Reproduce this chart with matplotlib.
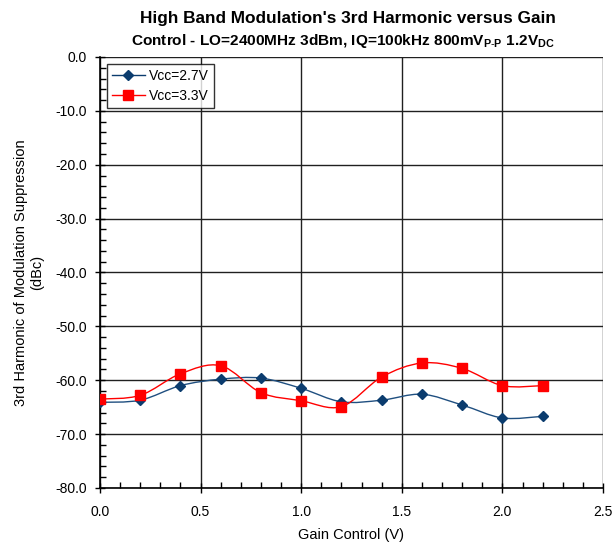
import numpy as np
import matplotlib
matplotlib.use('Agg')
import matplotlib.pyplot as plt
from matplotlib.path import Path
from matplotlib.patches import PathPatch
from matplotlib.ticker import MultipleLocator, FormatStrFormatter

plt.rcParams['font.family'] = ['Liberation Sans', 'DejaVu Sans']
plt.rcParams['mathtext.fontset'] = 'custom'
plt.rcParams['mathtext.rm'] = 'Liberation Sans'
plt.rcParams['mathtext.bf'] = 'Liberation Sans:bold'

gain = [0.0, 0.2, 0.4, 0.6, 0.8, 1.0, 1.2, 1.4, 1.6, 1.8, 2.0, 2.2]
vcc27 = [-64.1, -63.7, -61.0, -59.8, -59.6, -61.5, -64.0, -63.7, -62.6, -64.6, -67.0, -66.7]
vcc33 = [-63.5, -62.8, -58.8, -57.3, -62.3, -63.8, -64.9, -59.4, -56.8, -57.8, -61.0, -61.0]


def smooth_path(x, y):
    # Excel style smoothed line: bezier segments through the data points
    x = np.asarray(x, float)
    y = np.asarray(y, float)
    verts = [(x[0], y[0])]
    codes = [Path.MOVETO]
    n = len(x)
    for i in range(n - 1):
        x0, y0 = (x[i - 1], y[i - 1]) if i > 0 else (x[i], y[i])
        x3, y3 = (x[i + 2], y[i + 2]) if i + 2 < n else (x[i + 1], y[i + 1])
        c1 = (x[i] + (x[i + 1] - x0) / 6, y[i] + (y[i + 1] - y0) / 6)
        c2 = (x[i + 1] - (x3 - x[i]) / 6, y[i + 1] - (y3 - y[i]) / 6)
        verts += [c1, c2, (x[i + 1], y[i + 1])]
        codes += [Path.CURVE4] * 3
    return Path(verts, codes)


fig = plt.figure(figsize=(6.16, 5.48), dpi=100)
ax = fig.add_axes([0.1623, 0.1095, 0.8166, 0.7865])

blue = '#0b3c6e'
red = '#ff0000'
ax.add_patch(PathPatch(smooth_path(gain, vcc27), fill=False, edgecolor='#1f4f80', lw=1.0, zorder=3))
ax.add_patch(PathPatch(smooth_path(gain, vcc33), fill=False, edgecolor=red, lw=1.0, zorder=3))
ax.plot(gain, vcc27, linestyle='none', marker='D', ms=5.5, color=blue, zorder=4)
ax.plot(gain, vcc33, linestyle='none', marker='s', ms=7, color=red, zorder=4)
# legend handles
ax.plot([], [], '-', marker='D', ms=5.5, color=blue, mec=blue, mfc=blue, lw=1.0, label='Vcc=2.7V')
ax.plot([], [], '-', marker='s', ms=7, color=red, lw=1.0, label='Vcc=3.3V')

ax.set_xlim(0, 2.5)
ax.set_ylim(-80, 0)
ax.xaxis.set_major_locator(MultipleLocator(0.5))
ax.xaxis.set_minor_locator(MultipleLocator(0.1))
ax.yaxis.set_major_locator(MultipleLocator(10))
ax.yaxis.set_minor_locator(MultipleLocator(2))
ax.xaxis.set_major_formatter(FormatStrFormatter('%.1f'))
ax.yaxis.set_major_formatter(FormatStrFormatter('%.1f'))
ax.grid(True, which='major', color='#202020', lw=1.0)
ax.tick_params(which='major', direction='inout', length=7, width=1, labelsize=10, pad=6)
ax.tick_params(axis='x', which='major', pad=9)
ax.tick_params(which='minor', direction='in', length=4, width=1)
for s in ['top', 'right']:
    ax.spines[s].set_visible(False)
for s in ['left', 'bottom']:
    ax.spines[s].set_linewidth(1.2)

ax.set_xlabel('Gain Control (V)', fontsize=10.5, labelpad=6)
ax.set_ylabel('3rd Harmonic of Modulation Suppression\n(dBc)', fontsize=10.5, labelpad=8)

leg = ax.legend(loc='upper left', fontsize=10, frameon=True, fancybox=False,
                borderpad=0.35, handlelength=2.4, labelspacing=0.45,
                borderaxespad=0.5, handletextpad=0.3)
leg.get_frame().set_edgecolor('black')
leg.get_frame().set_linewidth(1.0)

fig.text(0.565, 0.966, "High Band Modulation's 3rd Harmonic versus Gain",
         ha='center', va='center', fontsize=12.4, fontweight='bold')
fig.text(0.556, 0.925,
         r"Control - LO=2400MHz 3dBm, IQ=100kHz 800mV$_{\mathbf{P\text{-}P}}$ 1.2V$_{\mathbf{DC}}$",
         ha='center', va='center', fontsize=11.1, fontweight='bold')

fig.savefig('out.png', dpi=100)
